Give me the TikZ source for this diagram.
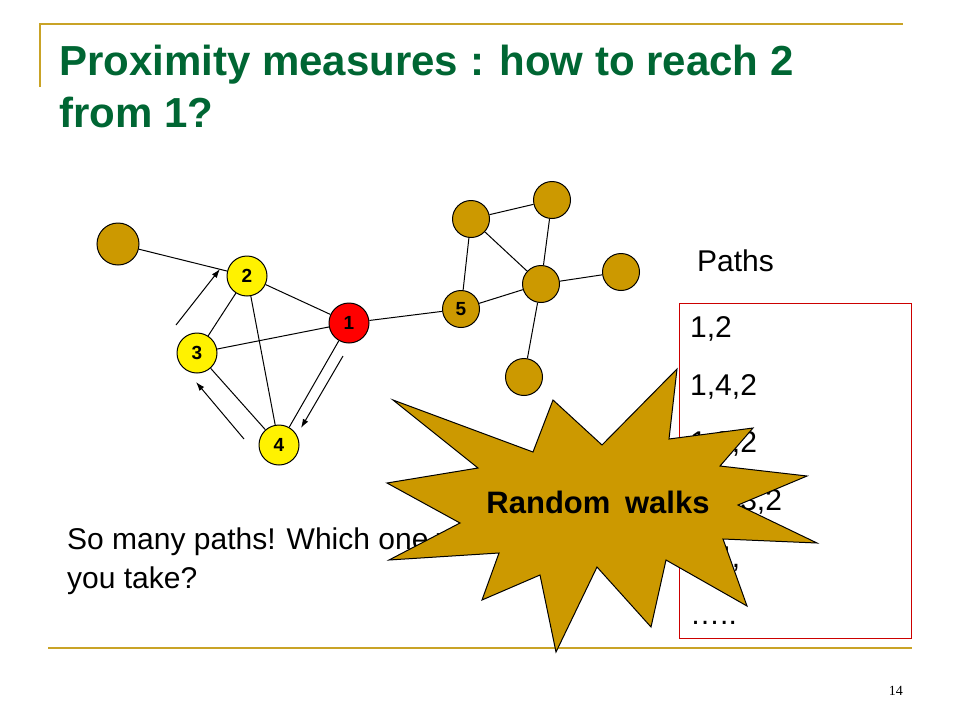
\documentclass[tikz,border=0pt]{standalone}
\usepackage{fontspec}
\usetikzlibrary{arrows.meta}
\setmainfont{Liberation Sans}
\newfontfamily\pagefont{Liberation Serif}
\definecolor{gold}{RGB}{204,153,0}
\definecolor{rulegold}{RGB}{201,163,38}
\definecolor{titlegreen}{RGB}{0,102,51}
\definecolor{boxred}{RGB}{204,0,0}
\tikzset{
  vtx/.style={circle, draw=black, line width=1pt, inner sep=0pt, minimum size=40pt, font=\fontsize{19}{19}\selectfont\bfseries},
  yel/.style={vtx, fill=yellow},
  brn/.style={vtx, fill=gold, minimum size=37pt},
  txt/.style={anchor=base west, inner sep=0pt, font=\fontsize{30}{36}\selectfont}
}
\begin{document}
\begin{tikzpicture}[x=1pt,y=-1pt]
\useasboundingbox (0,0) rectangle (960,720);

 % cadre de la diapo
  \draw[rulegold, line width=2pt] (40,87) -- (40,24) -- (903,24);
  \draw[rulegold, line width=2.5pt] (48,648) -- (912,648);
  \node[anchor=base west, inner sep=0pt, font=\fontsize{42}{52}\selectfont\bfseries, text=titlegreen] (title1) at (59,75) {Proximity measures : how to reach 2};
  \node[anchor=base west, inner sep=0pt, font=\fontsize{42}{52}\selectfont\bfseries, text=titlegreen] (title2) at (59,127) {from 1?};
  \node[anchor=base east, inner sep=0pt, font=\pagefont\fontsize{14}{14}\selectfont] (pagenum) at (903,695) {14};

 % le graphe
  \node[brn, minimum size=42pt] (lone) at (118,244) {};
  \node[yel] (n2) at (247,276) {2};
  \node[vtx, fill=red] (n1) at (349,323) {1};
  \node[yel] (n3) at (197,353) {3};
  \node[yel] (n4) at (279,445) {4};
  \node[brn] (n5) at (461,309) {5};
  \node[brn] (tl) at (471,219) {};
  \node[brn] (tr) at (552,200) {};
  \node[brn] (hub) at (541,284) {};
  \node[brn] (rt) at (621,272) {};
  \node[brn] (bt) at (524,377) {};
  \draw[line width=1pt] (lone) -- (n2) (n2) -- (n1) (n2) -- (n3) (n2) -- (n4) (n3) -- (n1)
        (n3) -- (n4) (n1) -- (n4) (n1) -- (n5);
  \draw[line width=1pt] (n5) -- (tl) (tl) -- (tr) (tl) -- (hub) (tr) -- (hub) (n5) -- (hub)
        (hub) -- (rt) (hub) -- (bt);

 % la marche
  \coordinate (w1) at (176,325); \coordinate (w2) at (220,269);
  \coordinate (w3) at (343,356); \coordinate (w4) at (301,428);
  \coordinate (w5) at (244,439); \coordinate (w6) at (196,382);
  \draw[line width=1pt,->,>={Latex[length=9pt,width=6pt]}] (w1) -- (w2);
  \draw[line width=1pt,->,>={Latex[length=9pt,width=6pt]}] (w3) -- (w4);
  \draw[line width=1pt,->,>={Latex[length=9pt,width=6pt]}] (w5) -- (w6);

 % du texte
  \node[txt] (q1) at (67,549) {So many paths! Which one would};
  \node[txt] (q2) at (67,588) {you take?};
  \node[txt] (paths) at (697,271) {Paths};
  \draw[boxred, line width=1pt] (679,303) rectangle (911,638);
  \node[txt] (p1) at (690,337) {1,2};
  \node[txt] (p2) at (690,395) {1,4,2};
  \node[txt] (p3) at (690,452) {1,3,2};
  \node[txt] (p4) at (690,510) {1,4,3,2};
  \node[txt] (p5) at (690,567) {1,4,};
  \node[txt] (p6) at (690,624) {…..};

 % l'explosion par-dessus
  \filldraw[fill=gold, draw=black, line width=1pt] (393,400) -- (533,452) -- (553,400) -- (602,445) -- (677,369)
     -- (669,439) -- (753,428) -- (720,466) -- (807,476) -- (738,505) -- (817,543) -- (723,539)
     -- (747,606) -- (666,560) -- (651,627) -- (597,567) -- (556,652) -- (540,575) -- (482,600)
     -- (499,553) -- (389,560) -- (460,523) -- (387,483) -- (478,468) -- cycle;
  \node[anchor=base, inner sep=0pt, font=\fontsize{31}{36}\selectfont\bfseries] (burst) at (598,513) {Random\hspace{6pt} walks};
\end{tikzpicture}
\end{document}
